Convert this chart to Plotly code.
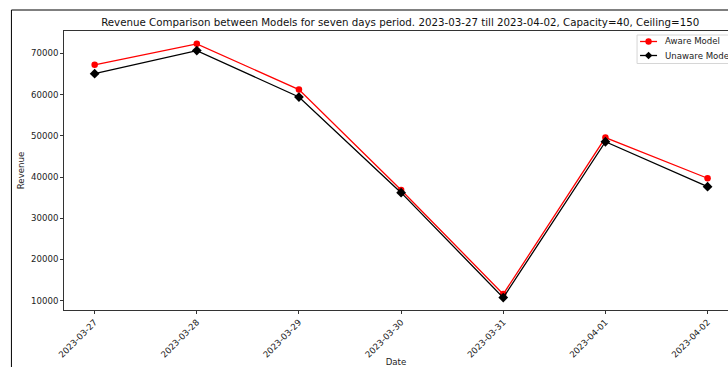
import plotly.graph_objects as go

dates = ["2023-03-27", "2023-03-28", "2023-03-29", "2023-03-30",
         "2023-03-31", "2023-04-01", "2023-04-02"]
aware_revenue = [67200, 72300, 61200, 36850, 11600, 49550, 39700]
unaware_revenue = [65050, 70650, 59400, 36200, 10750, 48550, 37650]
y_ticks = [10000, 20000, 30000, 40000, 50000, 60000, 70000]

series_names = ["Aware Model", "Unaware Model"]
series_colors = ["red", "black"]
series_symbols = ["circle", "diamond"]

W, H = 728, 367
L, T, B = 63.6, 31, 310
font = "DejaVu Sans"

fig = go.Figure()
for name, vals, color, sym, size in zip(series_names,
                                        [aware_revenue, unaware_revenue],
                                        series_colors, series_symbols, [6.5, 7.5]):
    fig.add_trace(go.Scatter(
        x=dates, y=vals, name=name, mode="lines+markers",
        line=dict(color=color, width=1.3),
        marker=dict(symbol=sym, size=size, color=color),
        showlegend=False,
    ))

pw = W - L
ph = B - T

def px_x(p):
    return (p - L) / pw

def px_y(p):
    return (B - p) / ph

# figure frame
fig.add_shape(type="rect", xref="paper", yref="paper",
              x0=px_x(11), x1=px_x(760), y0=px_y(400), y1=px_y(10),
              line=dict(color="black", width=1), fillcolor="rgba(0,0,0,0)")

# legend box with line+marker samples
fig.add_shape(type="rect", xref="paper", yref="paper",
              x0=px_x(637), x1=px_x(740), y0=px_y(63.5), y1=px_y(35),
              line=dict(color="#d6d6d6", width=1), fillcolor="rgba(255,255,255,0.85)")
legend_rows = [41.5, 55.5]
for name, color, sym, yrow in zip(series_names, series_colors, series_symbols, legend_rows):
    fig.add_shape(type="line", xref="paper", yref="paper",
                  x0=px_x(640), x1=px_x(657), y0=px_y(yrow), y1=px_y(yrow),
                  line=dict(color=color, width=1.3))
    cx, r = 648.5, 3.2
    if sym == "circle":
        fig.add_shape(type="circle", xref="paper", yref="paper",
                      x0=px_x(cx - r), x1=px_x(cx + r),
                      y0=px_y(yrow + r), y1=px_y(yrow - r),
                      line=dict(color=color, width=0), fillcolor=color)
    else:
        d = 3.8
        path = (f"M {px_x(cx)},{px_y(yrow - d)} L {px_x(cx + d)},{px_y(yrow)} "
                f"L {px_x(cx)},{px_y(yrow + d)} L {px_x(cx - d)},{px_y(yrow)} Z")
        fig.add_shape(type="path", xref="paper", yref="paper", path=path,
                      line=dict(color=color, width=0), fillcolor=color)
    fig.add_annotation(text=name, xref="paper", yref="paper",
                       x=px_x(662.5), y=px_y(yrow), xanchor="left", yanchor="middle",
                       showarrow=False, font=dict(size=8.6, color="#222"))

fig.update_layout(
    width=W, height=H,
    margin=dict(l=L, r=0, t=T, b=H - B, pad=0, autoexpand=False),
    paper_bgcolor="white", plot_bgcolor="white",
    font=dict(family=font, size=8.6, color="#222"),
    title=dict(
        text="Revenue Comparison between Models for seven days period. "
             "2023-03-27 till 2023-04-02, Capacity=40, Ceiling=150",
        x=px_x(400), xanchor="center", xref="paper",
        y=1 - 22 / H, yanchor="middle",
        font=dict(size=10.25, color="#111"),
    ),
    showlegend=False,
    xaxis=dict(
        type="category", range=[-0.3, 6.2],
        showline=True, linecolor="#333", linewidth=0.8, mirror=True,
        ticks="outside", ticklen=3, tickwidth=0.8, tickcolor="#333",
        tickangle=-45, showgrid=False, zeroline=False,
        title=dict(text="Date", standoff=2, font=dict(size=8.6)),
        automargin=False,
    ),
    yaxis=dict(
        range=[7745, 75409], tickvals=y_ticks, tickformat="d",
        showline=True, linecolor="#333", linewidth=0.8, mirror=False,
        ticks="outside", ticklen=3, tickwidth=0.8, tickcolor="#333",
        showgrid=False, zeroline=False,
        title=dict(text="Revenue", standoff=5, font=dict(size=8.6)),
        automargin=False,
    ),
)

fig.write_html("out.html")
